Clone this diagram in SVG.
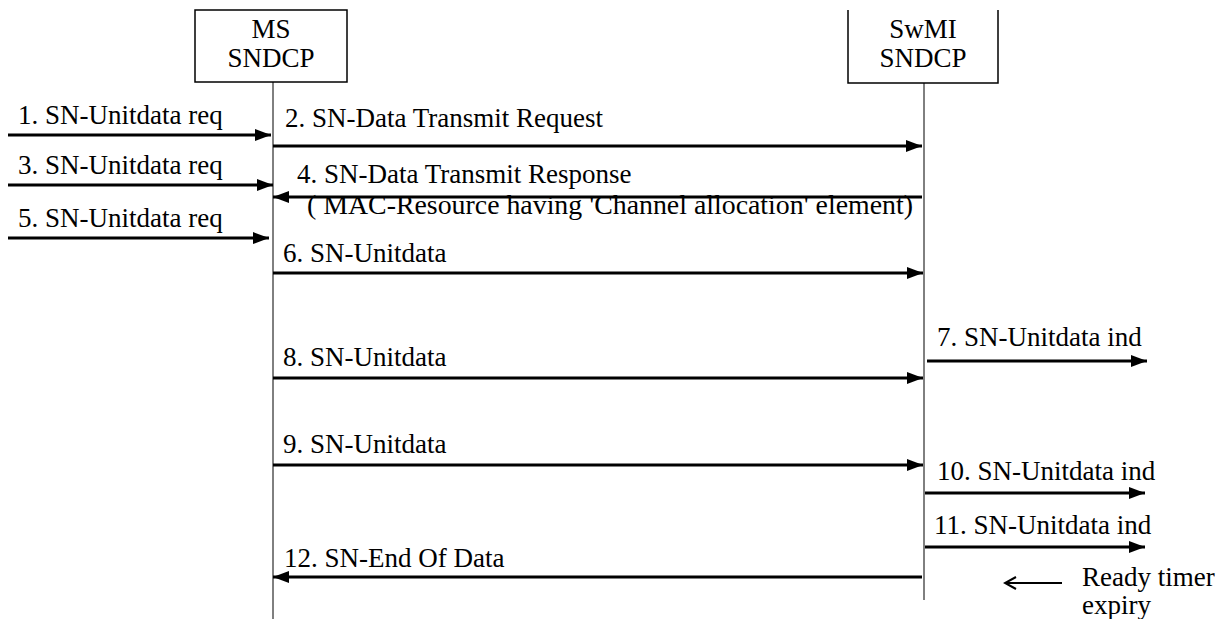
<svg xmlns="http://www.w3.org/2000/svg" width="1219" height="619" viewBox="0 0 1219 619">
<defs>
<marker id="ah" markerWidth="16" markerHeight="12" refX="16" refY="6" orient="auto" markerUnits="userSpaceOnUse">
<path d="M0,0 L16,6 L0,12 Z" fill="#000"/>
</marker>
<marker id="open" markerWidth="14" markerHeight="14" refX="12" refY="7" orient="auto" markerUnits="userSpaceOnUse">
<path d="M1,1 L12,7 L1,13" fill="none" stroke="#000" stroke-width="2"/>
</marker>
</defs>
<style>
text{font-family:"Liberation Serif","Times New Roman",serif;font-size:27px;fill:#000}
.box{fill:#fff;stroke:#000;stroke-width:1.5}
.life{stroke:#000;stroke-width:1}
.msg{stroke:#000;stroke-width:3;fill:none;marker-end:url(#ah)}
</style>
<rect width="1219" height="619" fill="#fff"/>
<g id="ms">
<rect class="box" x="195" y="10" width="152" height="72"/>
<text x="271" y="38" text-anchor="middle">MS</text>
<text x="271" y="67" text-anchor="middle">SNDCP</text>
<line class="life" x1="273" y1="82" x2="273" y2="619"/>
</g>
<g id="swmi">
<path class="box" d="M848,10 V83 H998 V10"/>
<text x="923" y="38" text-anchor="middle">SwMI</text>
<text x="923" y="67" text-anchor="middle">SNDCP</text>
<line class="life" x1="924" y1="83" x2="924" y2="600"/>
</g>
<g id="connectors">
<line class="msg" x1="8" y1="135" x2="271" y2="135"/>
<line class="msg" x1="8" y1="185" x2="273" y2="185"/>
<line class="msg" x1="8" y1="238" x2="269" y2="238"/>
<line class="msg" x1="273" y1="146" x2="922" y2="146"/>
<line class="msg" x1="922" y1="197" x2="273" y2="197"/>
<line class="msg" x1="273" y1="273" x2="923" y2="273"/>
<line class="msg" x1="927" y1="361" x2="1147" y2="361"/>
<line class="msg" x1="273" y1="378" x2="923" y2="378"/>
<line class="msg" x1="273" y1="465" x2="923" y2="465"/>
<line class="msg" x1="925" y1="493" x2="1145" y2="493"/>
<line class="msg" x1="925" y1="547" x2="1145" y2="547"/>
<line class="msg" x1="922" y1="577" x2="273" y2="577"/>
<line x1="1062" y1="583" x2="1005" y2="583" stroke="#000" stroke-width="2" marker-end="url(#open)"/>
</g>
<g id="labels">
<text x="18" y="124">1. SN-Unitdata req</text>
<text x="18" y="174">3. SN-Unitdata req</text>
<text x="18" y="227">5. SN-Unitdata req</text>
<text x="285" y="127">2. SN-Data Transmit Request</text>
<text x="297" y="183">4. SN-Data Transmit Response</text>
<text x="307" y="214" textLength="606" lengthAdjust="spacingAndGlyphs">( MAC-Resource having 'Channel allocation' element)</text>
<text x="283" y="262">6. SN-Unitdata</text>
<text x="937" y="346">7. SN-Unitdata ind</text>
<text x="283" y="366">8. SN-Unitdata</text>
<text x="283" y="453">9. SN-Unitdata</text>
<text x="937" y="480">10. SN-Unitdata ind</text>
<text x="934" y="534">11. SN-Unitdata ind</text>
<text x="284" y="567">12. SN-End Of Data</text>
<text x="1082" y="586">Ready timer</text>
<text x="1082" y="614">expiry</text>
</g>
</svg>
